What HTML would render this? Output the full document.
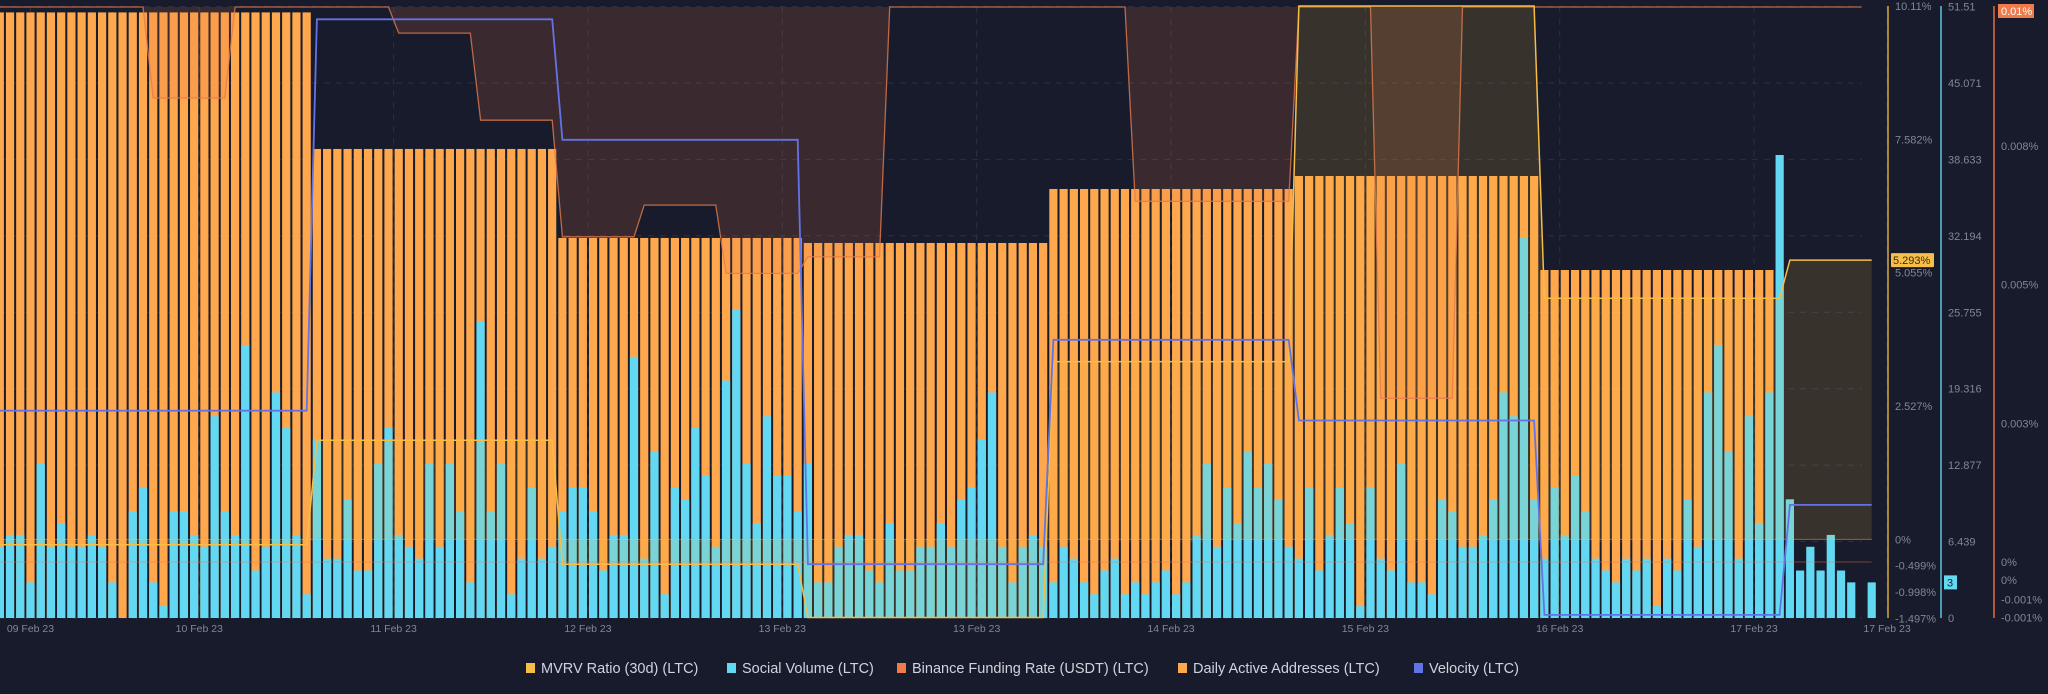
<!DOCTYPE html>
<html><head><meta charset="utf-8"><style>
html,body{margin:0;padding:0;background:#181b2b;}
svg{display:block;font-family:"Liberation Sans",sans-serif;}
</style></head><body>
<svg id="chart" width="2048" height="694" viewBox="0 0 2048 694" xmlns="http://www.w3.org/2000/svg">
<rect x="0" y="0" width="2048" height="694" fill="#181b2b"/>
<g id="grid"></g>
<g id="daaBars"></g>
<g id="svBars"></g>
<g id="fills"></g>
<g id="lines"></g>
<g id="axes"></g>
<g id="legend"></g>
</svg>
<script>
// ---- data ----
const xTickLabels = ["09 Feb 23","10 Feb 23","11 Feb 23","12 Feb 23","13 Feb 23","13 Feb 23","14 Feb 23","15 Feb 23","16 Feb 23","17 Feb 23","17 Feb 23"];
const xTickHours = [3,19.5,38.5,57.5,76.5,95.5,114.5,133.5,152.5,171.5,184.5];
const dayStarts = [0,31,55,79,103,127,151,175];
const daaDaily = [8200,6351,5146,5078,5809,5985,4712,0];
const mvrvDaily = [-0.1,1.88,-0.47,-1.48,3.37,10.11,4.57,5.293];
const velocityDaily = [3.39,9.79,7.82,0.88,4.55,3.23,0.05,1.85];
const funding8h = [10,10,8.36,10,10,9.53,7.96,5.86,6.43,5.2,5.5,10,10,10,6.5,6.5,10,2.95,10,10,10,10,10];
const socialVolume = [6,7,7,3,13,6,8,6,6,7,6,3,0,9,11,3,1,9,9,7,6,17,9,7,23,4,6,19,16,7,2,15,5,5,10,4,4,13,16,7,6,5,13,6,13,9,3,25,9,13,2,5,11,5,6,9,11,11,9,4,7,7,22,5,14,2,11,10,16,12,6,20,26,13,8,17,12,12,9,13,3,3,6,7,7,4,3,8,4,4,6,6,8,6,10,11,15,19,6,3,6,7,6,3,6,5,3,2,4,5,2,3,2,3,4,2,3,7,13,6,11,8,14,11,13,10,6,5,11,4,7,11,8,1,11,5,4,13,3,3,2,10,9,6,6,7,10,19,17,32,10,5,11,7,12,9,5,4,3,5,4,5,1,5,4,10,6,19,23,14,5,17,8,19,39,10,4,6,4,7,4,3,0,3];
const mvrvTicks = ["10.11%","7.582%","5.055%","2.527%","0%","-0.499%","-0.998%","-1.497%"];
const mvrvTickVals = [10.11,7.582,5.055,2.527,0,-0.499,-0.998,-1.497];
const svTicks = [51.51,45.071,38.633,32.194,25.755,19.316,12.877,6.439,0];
const fundTicks = ["0.008%","0.005%","0.003%","0%","0%","-0.001%","-0.001%"];
const fundTickVals = [7.5,5,2.5,0,-0.32,-0.68,-1.0];

// ---- scales ----
const NS="http://www.w3.org/2000/svg";
const TOP=6.5, BOT=618, PITCH=10.229, X0=-4.3, BW=8.2;
const xLeft = h => X0 + h*PITCH;
const xC = h => xLeft(h) + BW/2;
const yMvrv = v => 539.4 - 52.76*v;
const ySv = v => BOT - (BOT-TOP)*v/51.51;
const yDaa = v => BOT - (BOT-TOP)*v/8280;
const yVel = v => BOT - (BOT-TOP)*v/10;
const yFund = k => 562 - 55.5*k;
const nHours = socialVolume.length;
function dayOf(h){let d=0;for(let i=0;i<dayStarts.length;i++){if(h>=dayStarts[i])d=i;}return d;}
function mk(tag,attrs,parent){const e=document.createElementNS(NS,tag);for(const k in attrs)e.setAttribute(k,attrs[k]);parent.appendChild(e);return e;}

const grid=document.getElementById('grid');
svTicks.forEach(v=>{const l=mk('line',{x1:0,x2:1862,y1:ySv(v),y2:ySv(v),stroke:'#2a2f44','stroke-dasharray':'6 6','stroke-width':1},grid);

});
xTickHours.forEach(h=>{const l=mk('line',{x1:xC(h),x2:xC(h),y1:TOP,y2:BOT,stroke:'#2a2f44','stroke-dasharray':'6 6','stroke-width':1},grid);

});

// DAA bars
const daaG=document.getElementById('daaBars');
for(let h=0;h<nHours;h++){const v=daaDaily[dayOf(h)];if(v<=0)continue;
const y=yDaa(v);const r=mk('rect',{x:xLeft(h),y:y,width:BW,height:BOT-y,fill:'#ffa74c'},daaG);

}
// Social volume bars
const svG=document.getElementById('svBars');
for(let h=0;h<nHours;h++){const v=socialVolume[h];if(v<=0)continue;
const y=ySv(v);const r=mk('rect',{x:xLeft(h),y:y,width:BW,height:BOT-y,fill:'#63d8f3'},svG);

}

// series points
function pts(fn){const a=[];for(let h=0;h<nHours;h++)a.push([xC(h),fn(h)]);return a;}
const fundPts=pts(h=>yFund(funding8h[Math.floor((h+1)/8)]));
const mvrvPts=pts(h=>yMvrv(mvrvDaily[dayOf(h)]));
const velPts=pts(h=>yVel(velocityDaily[dayOf(h)]));
const pathOf=a=>a.map((p,i)=>(i?'L':'M')+p[0].toFixed(1)+' '+p[1].toFixed(1)).join(' ');
function areaOf(a,base){return pathOf(a)+' L'+a[a.length-1][0].toFixed(1)+' '+base+' L'+a[0][0].toFixed(1)+' '+base+' Z';}

const fills=document.getElementById('fills');
const ff=mk('path',{d:areaOf(fundPts,yFund(0)),fill:'rgba(232,119,74,0.17)'},fills);


const mf=mk('path',{d:areaOf(mvrvPts,yMvrv(0)),fill:'rgba(255,190,60,0.14)'},fills);


const b1=mk('line',{x1:xC(0),x2:xC(nHours-1),y1:yFund(0),y2:yFund(0),stroke:'rgba(232,119,74,0.45)','stroke-width':1},fills);


const b2=mk('line',{x1:xC(0),x2:xC(nHours-1),y1:yMvrv(0),y2:yMvrv(0),stroke:'rgba(255,190,60,0.45)','stroke-width':1},fills);



const lines=document.getElementById('lines');
const fl=mk('path',{d:pathOf(fundPts),fill:'none',stroke:'#e47a4d','stroke-width':1.3,'stroke-opacity':0.8},lines);


const ml=mk('path',{d:pathOf(mvrvPts),fill:'none',stroke:'#f7bd45','stroke-width':1.5},lines);


const vl=mk('path',{d:pathOf(velPts),fill:'none',stroke:'#6373e6','stroke-width':1.8},lines);



// axes
const axes=document.getElementById('axes');
function txt(x,y,s,attrs,parent,name){const t=mk('text',Object.assign({x:x,y:y,'font-size':11,fill:'#80869b'},attrs),parent);t.textContent=s;

return t;}
const ay=mk('line',{x1:1888,x2:1888,y1:6,y2:618,stroke:'#d9a53f','stroke-width':1.5},axes);


const ac=mk('line',{x1:1941,x2:1941,y1:6,y2:618,stroke:'#58c6dc','stroke-width':1.5},axes);


const ao=mk('line',{x1:1994,x2:1994,y1:6,y2:618,stroke:'#e0703f','stroke-width':1.5},axes);


mvrvTicks.forEach((s,i)=>txt(1895,yMvrv(mvrvTickVals[i])+4,s,{},axes,'mvrv-tick-label'));
svTicks.forEach(v=>txt(1948,ySv(v)+4,String(v),{},axes,'social-volume-tick-label'));
fundTicks.forEach((s,i)=>txt(2001,yFund(fundTickVals[i])+4,s,{},axes,'funding-tick-label'));
xTickLabels.forEach((s,i)=>txt(xC(xTickHours[i]),632,s,{'text-anchor':'middle','font-size':10.5},axes,'x-tick-label'));
// badges
const bm=mk('rect',{x:1891,y:yMvrv(5.293)-7,width:43,height:14,fill:'#f8bf48',rx:1},axes);


txt(1893,yMvrv(5.293)+4,'5.293%',{fill:'#3a2a10'},axes,'mvrv-value-badge-text');
const bc=mk('rect',{x:1944,y:ySv(3)-7,width:13,height:14,fill:'#63d8f3'},axes);


txt(1947,ySv(3)+4,'3',{fill:'#123'},axes,'social-volume-value-badge-text');
const bo=mk('rect',{x:1998,y:4,width:36,height:14,fill:'#f07a4a'},axes);


txt(2001,15,'0.01%',{fill:'#ffffff'},axes,'funding-value-badge-text');

// legend
const legendItems=["MVRV Ratio (30d) (LTC)","Social Volume (LTC)","Binance Funding Rate (USDT) (LTC)","Daily Active Addresses (LTC)","Velocity (LTC)"];
const legendColors=["#f8bf48","#63d8f3","#f07a4a","#ffa74c","#6373e6"];
const legendX=[526,727,897,1178,1414];
const lg=document.getElementById('legend');
legendItems.forEach((s,i)=>{
const g=mk('g',{},lg);


const r=mk('rect',{x:legendX[i],y:663,width:9,height:10,fill:legendColors[i]},g);


const t=mk('text',{x:legendX[i]+15,y:673,'font-size':14.5,fill:'#d0d3de'},g);
t.textContent=s;


});
</script>
</body></html>
